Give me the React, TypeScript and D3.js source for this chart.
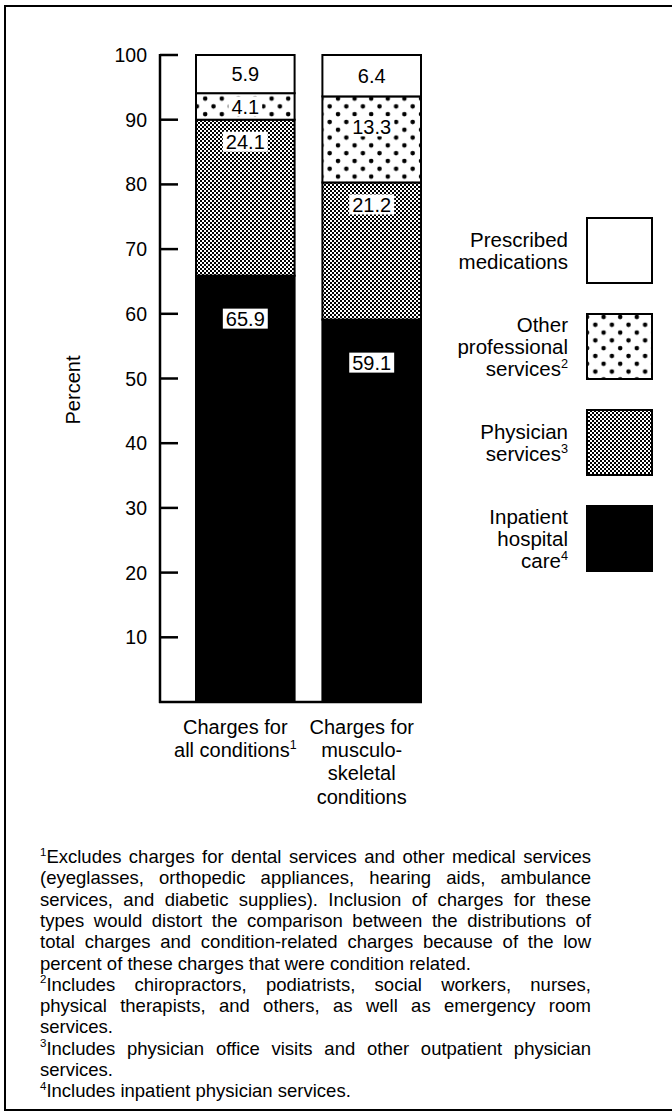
import React, { useEffect, useRef } from 'react';
import * as d3 from 'd3';

// bar categories and their axis labels (^n = superscript footnote mark)
const categories = ['all', 'musculoskeletal'];
const categoryLabels = [
  ['Charges for', 'all conditions^1'],
  ['Charges for', 'musculo-', 'skeletal', 'conditions'],
];

// stacked series, bottom to top (percent)
const seriesKeys = ['inpatient', 'physician', 'other', 'prescribed'];
const inpatientCare = [65.9, 59.1];
const physicianServices = [24.1, 21.2];
const otherProfessional = [4.1, 13.3];
const prescribedMeds = [5.9, 6.4];

const yTicks = [10, 20, 30, 40, 50, 60, 70, 80, 90, 100];

// legend, top to bottom
const legendKeys = ['prescribed', 'other', 'physician', 'inpatient'];
const legendLabels = [
  ['Prescribed', 'medications'],
  ['Other', 'professional', 'services^2'],
  ['Physician', 'services^3'],
  ['Inpatient', 'hospital', 'care^4'],
];

// footnote lines; flag = justified
const footnoteLines: [string, boolean][] = [
  ['^1Excludes charges for dental services and other medical services', true],
  ['(eyeglasses, orthopedic appliances, hearing aids, ambulance', true],
  ['services, and diabetic supplies). Inclusion of charges for these', true],
  ['types would distort the comparison between the distributions of', true],
  ['total charges and condition-related charges because of the low', true],
  ['percent of these charges that were condition related.', false],
  ['^2Includes chiropractors, podiatrists, social workers, nurses,', true],
  ['physical therapists, and others, as well as emergency room', true],
  ['services.', false],
  ['^3Includes physician office visits and other outpatient physician', true],
  ['services.', false],
  ['^4Includes inpatient physician services.', false],
];

const W = 672;
const H = 1113;
const FONT = '"Liberation Sans", Arial, Helvetica, sans-serif';

// write text with ^n superscripts as tspans
function rich(sel: any, str: string, size: number) {
  const parts = str.split(/\^(\d)/);
  let shift = 0;
  parts.forEach((p, i) => {
    if (!p) return;
    if (i % 2 === 1) {
      shift = size * 0.4;
      sel.append('tspan').attr('dy', -shift).attr('font-size', size * 0.62).text(p);
    } else {
      const t = sel.append('tspan').text(p);
      if (shift) { t.attr('dy', shift); shift = 0; }
    }
  });
}

const App: React.FC = () => {
  const ref = useRef<SVGSVGElement | null>(null);

  useEffect(() => {
    if (!ref.current) return;
    const svg = d3.select(ref.current);
    svg.selectAll('*').remove();

    // patterns
    const defs = svg.append('defs');
    const fine = defs.append('pattern').attr('id', 'fine')
      .attr('patternUnits', 'userSpaceOnUse').attr('width', 4).attr('height', 4);
    fine.append('rect').attr('width', 4).attr('height', 4).attr('fill', '#fff');
    fine.append('rect').attr('width', 2).attr('height', 2).attr('fill', '#000');
    fine.append('rect').attr('x', 2).attr('y', 2).attr('width', 2).attr('height', 2).attr('fill', '#000');

    const dots = defs.append('pattern').attr('id', 'dots')
      .attr('patternUnits', 'userSpaceOnUse').attr('width', 16.6).attr('height', 15.6)
      .attr('x', 2).attr('y', 1);
    dots.append('rect').attr('width', 16.6).attr('height', 15.6).attr('fill', '#fff');
    dots.append('circle').attr('cx', 4).attr('cy', 4).attr('r', 2.3).attr('fill', '#000');
    dots.append('circle').attr('cx', 12.3).attr('cy', 11.8).attr('r', 2.3).attr('fill', '#000');

    const fills: Record<string, string> = {
      inpatient: '#000', physician: 'url(#fine)', other: 'url(#dots)', prescribed: '#fff',
    };
    const labelOffset: Record<string, number> = {
      inpatient: 43, physician: 22, other: 30, prescribed: 999,
    };

    // frame
    svg.append('path').attr('d', `M${W},6H5V1110H${W}`)
      .attr('fill', 'none').attr('stroke', '#000').attr('stroke-width', 2);

    const y = d3.scaleLinear().domain([0, 100]).range([702, 55]);
    const x = d3.scaleBand<string>().domain(categories).range([196, 421])
      .paddingInner(0.22).paddingOuter(0);

    const rows = categories.map((c, i) => ({
      cat: c,
      inpatient: inpatientCare[i],
      physician: physicianServices[i],
      other: otherProfessional[i],
      prescribed: prescribedMeds[i],
    }));
    const stacked = d3.stack<any>().keys(seriesKeys)(rows);

    // bars
    const g = svg.append('g');
    stacked.forEach(layer => {
      g.selectAll(null).data(layer).enter().append('rect')
        .attr('x', d => x(d.data.cat) || 0)
        .attr('y', d => y(d[1]))
        .attr('width', x.bandwidth())
        .attr('height', d => y(d[0]) - y(d[1]))
        .attr('fill', fills[layer.key])
        .attr('stroke', '#000').attr('stroke-width', 2);
    });

    // value labels
    stacked.forEach(layer => {
      layer.forEach((d: any) => {
        const top = y(d[1]);
        const h = y(d[0]) - y(d[1]);
        const cy = top + Math.min(labelOffset[layer.key], h / 2);
        const cx = (x(d.data.cat) || 0) + x.bandwidth() / 2;
        const lg = g.append('g');
        const rect = lg.append('rect').attr('fill', '#fff');
        const t = lg.append('text')
          .attr('x', cx).attr('y', cy).attr('dy', '0.36em')
          .attr('text-anchor', 'middle').attr('font-size', 20).attr('font-family', FONT)
          .text(d3.format('.1f')(d[1] - d[0]));
        const bb = (t.node() as SVGTextElement).getBBox();
        rect.attr('x', bb.x - 3).attr('y', cy - 10).attr('width', bb.width + 6).attr('height', 20);
      });
    });

    // y axis
    const ax = svg.append('g');
    ax.append('line').attr('x1', 160).attr('x2', 160).attr('y1', y(100) - 1).attr('y2', y(0) + 1)
      .attr('stroke', '#000').attr('stroke-width', 2.5);
    ax.append('line').attr('x1', 159).attr('x2', 422).attr('y1', y(0)).attr('y2', y(0))
      .attr('stroke', '#000').attr('stroke-width', 2.5);
    ax.selectAll('.tick').data(yTicks).enter().append('line')
      .attr('x1', 160).attr('x2', 178).attr('y1', d => y(d)).attr('y2', d => y(d))
      .attr('stroke', '#000').attr('stroke-width', 2.5);
    ax.selectAll('.lbl').data(yTicks).enter().append('text')
      .attr('x', 147).attr('y', d => y(d)).attr('dy', '0.36em')
      .attr('text-anchor', 'end').attr('font-size', 19.5).attr('font-family', FONT)
      .text(d => d);
    svg.append('text')
      .attr('transform', 'translate(80,390) rotate(-90)')
      .attr('text-anchor', 'middle').attr('font-size', 20).attr('font-family', FONT)
      .text('Percent');

    // category labels
    categories.forEach((c, i) => {
      const cx = (x(c) || 0) + x.bandwidth() / 2 - 10;
      categoryLabels[i].forEach((line, j) => {
        const t = svg.append('text').attr('x', cx).attr('y', 734 + j * 23.2)
          .attr('text-anchor', 'middle').attr('font-size', 20).attr('font-family', FONT);
        rich(t, line, 20);
      });
    });

    // legend
    legendKeys.forEach((k, i) => {
      const top = 218 + i * 96;
      svg.append('rect').attr('x', 587).attr('y', top).attr('width', 65).attr('height', 65)
        .attr('fill', fills[k]).attr('stroke', '#000').attr('stroke-width', 2);
      const lines = legendLabels[i];
      const mid = top + 32.5;
      lines.forEach((line, j) => {
        const t = svg.append('text').attr('x', 568)
          .attr('y', mid + (j - (lines.length - 1) / 2) * 22).attr('dy', '0.36em')
          .attr('text-anchor', 'end').attr('font-size', 20.5).attr('font-family', FONT);
        rich(t, line, 20.5);
      });
    });

    // footnotes
    footnoteLines.forEach(([line, justify], i) => {
      const t = svg.append('text').attr('x', 40).attr('y', 863 + i * 21.3)
        .attr('font-size', 18.5).attr('font-family', FONT);
      rich(t, line, 18.5);
      if (justify) {
        const w = (t.node() as SVGTextElement).getComputedTextLength();
        const spaces = (line.match(/ /g) || []).length;
        if (spaces) t.attr('word-spacing', (551 - w) / spaces);
      }
    });
  }, []);

  return (
    <svg ref={ref} width={W} height={H}
      style={{ position: 'absolute', left: 0, top: 0, background: '#fff' }} />
  );
};

export default App;
